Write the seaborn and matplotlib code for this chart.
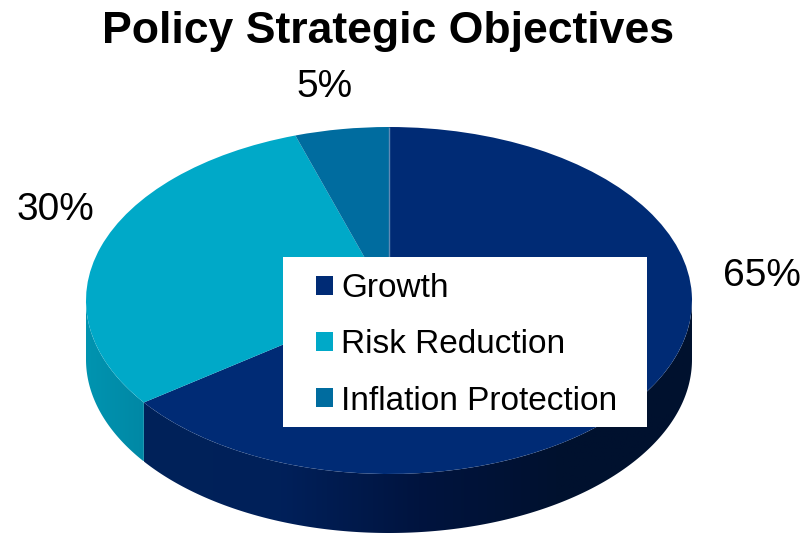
import numpy as np
import matplotlib
matplotlib.use("Agg")
import matplotlib.pyplot as plt
from matplotlib.colors import LinearSegmentedColormap
from matplotlib.patches import Polygon, Rectangle
import seaborn as sns

categories = ["Growth", "Risk Reduction", "Inflation Protection"]
shares = [65, 30, 5]
share_labels = ["65%", "30%", "5%"]
title = "Policy Strategic Objectives"

sns.set_theme(style="white")
plt.rcParams["font.family"] = ["Liberation Sans", "DejaVu Sans"]

W, H = 804, 533
palette = sns.color_palette(["#002b75", "#00a9c8", "#006c9f"])

fig = plt.figure(figsize=(W / 100, H / 100), dpi=100, facecolor="white")
ax = fig.add_axes([0, 0, 1, 1])

# Unit-circle pie squashed into an ellipse by the axes limits
cx, cy, rx, ry, depth_px = 389, 300.5, 303, 173.5, 59
depth = depth_px / ry
xlim = (-cx / rx, (W - cx) / rx)
ylim = ((cy - H) / ry, cy / ry)

wedges, _ = ax.pie(shares, colors=palette, startangle=90, counterclock=False,
                   radius=1, wedgeprops={"linewidth": 0, "zorder": 3})
ax.set_aspect("auto")
ax.set_xlim(xlim)
ax.set_ylim(ylim)
ax.axis("off")


def side_band(t0, t1, stops):
    """Extruded rim between two angles (degrees), shaded left to right."""
    t = np.radians(np.linspace(t0, t1, 200))
    x, y = np.cos(t), np.sin(t)
    verts = np.column_stack([np.r_[x, x[::-1]], np.r_[y, y[::-1] - depth]])
    poly = Polygon(verts, closed=True, transform=ax.transData, facecolor="none", edgecolor="none")
    ax.add_patch(poly)
    cmap = LinearSegmentedColormap.from_list("rim", stops)
    grad = np.linspace(0, 1, 256).reshape(1, -1)
    img = ax.imshow(grad, cmap=cmap, aspect="auto", zorder=2,
                    extent=(verts[:, 0].min(), verts[:, 0].max(), verts[:, 1].min(), verts[:, 1].max()))
    img.set_clip_path(poly)


# The rim runs along the lower half of the ellipse, split at the slice boundaries
boundary = 90 - 360 * shares[0] / sum(shares)
side_band(0, boundary, ["#002259", "#00205a", "#00143f", "#00112f", "#00112e"])
side_band(boundary, -180, ["#0094b0", "#0088a5"])
ax.set_xlim(xlim)
ax.set_ylim(ylim)

# Hairline on the twelve o'clock slice boundary
ax.plot([0, 0], [0, 1], color="#5f8ab5", lw=1, zorder=4, solid_capstyle="butt")


def fx(px):
    return px / W


def fy(py):
    return 1 - py / H


fig.text(fx(388), fy(32), title, ha="center", va="center", fontsize=32.1, fontweight="bold", color="black")
for label, (px, py) in zip(share_labels, [(762, 276), (55, 210), (325, 87)]):
    fig.text(fx(px), fy(py), label, ha="center", va="center", fontsize=28, color="black")

# White panel behind the legend entries
ax.add_patch(Rectangle((fx(283), fy(427)), 364 / W, 170 / H, transform=fig.transFigure,
                       facecolor="white", edgecolor="none", zorder=9))
leg = fig.legend(wedges, categories, loc="upper left", bbox_to_anchor=(fx(316), fy(273)),
                 bbox_transform=fig.transFigure, borderaxespad=0, fontsize=24,
                 frameon=False, handlelength=0.51, handleheight=0.51, handletextpad=0.25,
                 borderpad=0, labelspacing=0.76, labelcolor="black")
leg.set_zorder(10)

fig.savefig("out.png", dpi=100, facecolor="white")
